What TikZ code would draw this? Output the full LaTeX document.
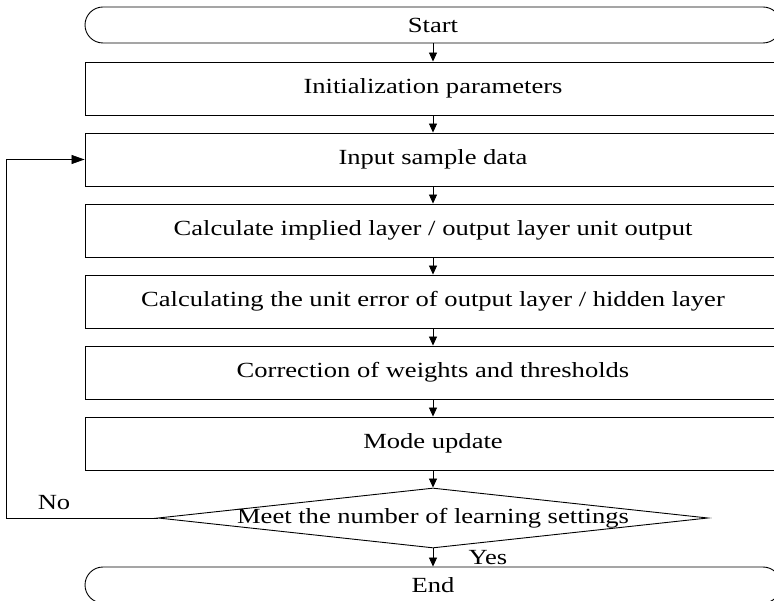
\documentclass[tikz,border=0pt]{standalone}
\usepackage{fontspec}
\setmainfont{Liberation Serif}[FakeStretch=1.23]
\usetikzlibrary{arrows.meta,shapes.geometric}
\begin{document}
\begin{tikzpicture}[x=1pt,y=-1pt,
    txt/.style={font=\fontsize{21.6}{25}\selectfont},
    box/.style={txt, draw, line width=0.9pt, minimum width=696pt, minimum height=53pt, inner sep=0pt},
    term/.style={box, minimum height=36pt, rounded corners=18pt},
    flow/.style={line width=0.8pt, -{Triangle[length=9pt,width=8pt]}}]
    \useasboundingbox (0,0) rectangle (774,601);

    % Terminal Start
    \node [term] (start) at (433,25) {Start};

    % Process boxes
    \node [box] (init) at (433,88.5) {Initialization parameters};
    \node [box] (input) at (433,159.5) {Input sample data};
    \node [box] (calc) at (433,230.5) {Calculate implied layer / output layer unit output};
    \node [box] (error) at (433,301.5) {Calculating the unit error of output layer / hidden layer};
    \node [box] (correct) at (433,372.5) {Correction of weights and thresholds};
    \node [box] (mode) at (433,443.5) {Mode update};

    % Decision
    \node [diamond, draw, line width=0.9pt, minimum width=550pt, minimum height=60pt, inner sep=0pt] (check) at (433,518) {};
    \node [txt] (checktext) at (check.center) {Meet the number of learning settings};

    % Terminal End
    \node [term] (end) at (433,585) {End};

    % Drawing arrows down
    \draw [flow] (start) -- (init);
    \draw [flow] (init) -- (input);
    \draw [flow] (input) -- (calc);
    \draw [flow] (calc) -- (error);
    \draw [flow] (error) -- (correct);
    \draw [flow] (correct) -- (mode);
    \draw [flow] (mode) -- (check);
    \draw [flow] (check) -- (end);

    % Drawing loop back
    \draw [flow, -{Triangle[length=13pt,width=9pt]}] (check.west) -- ++(-151,0) |- (input.west);

    % Labels
    \node [txt] (nolabel) at (54,503) {No};
    \node [txt] (yeslabel) at (488,558) {Yes};
\end{tikzpicture}
\end{document}
